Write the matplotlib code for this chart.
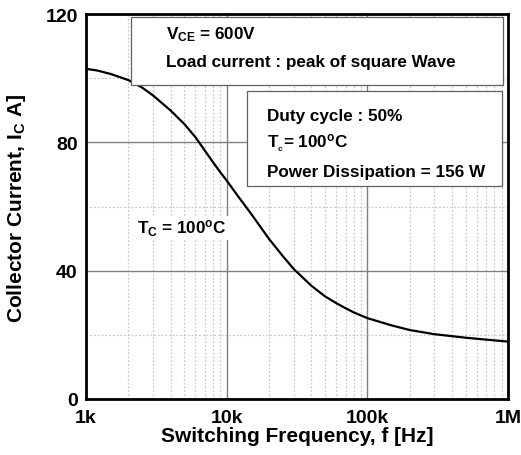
import matplotlib
matplotlib.use("Agg")
import matplotlib.pyplot as plt
import matplotlib.patches as mpatches
from matplotlib.ticker import FixedLocator, NullFormatter, LogLocator

plt.rcParams['font.family'] = ['Liberation Sans', 'DejaVu Sans']
plt.rcParams['font.weight'] = 'bold'
plt.rcParams['mathtext.fontset'] = 'custom'
plt.rcParams['mathtext.rm'] = 'Liberation Sans:bold'
plt.rcParams['mathtext.it'] = 'Liberation Sans:bold'
plt.rcParams['mathtext.bf'] = 'Liberation Sans:bold'

# data
freq_hz = [1000, 1200, 1500, 2000, 2500, 3000, 4000, 5000, 6000, 7000, 8000, 9000,
           10000, 12000, 15000, 20000, 25000, 30000, 40000, 50000, 60000, 70000,
           80000, 100000, 150000, 200000, 300000, 500000, 700000, 1000000]
current_a = [102.9, 102.4, 101.3, 99.4, 97.1, 94.6, 89.9, 85.7, 81.6, 77.4, 73.8, 70.7,
             68.1, 63.3, 57.6, 49.9, 44.6, 40.5, 35.3, 32.0, 29.9, 28.3,
             27.0, 25.2, 22.9, 21.5, 20.2, 19.1, 18.5, 17.9]

x_ticks = [1e3, 1e4, 1e5, 1e6]
x_tick_labels = ['1k', '10k', '100k', '1M']
y_ticks = [0, 40, 80, 120]
y_minor = [20, 60, 100]

W, H = 521, 456
fig = plt.figure(figsize=(W / 100, H / 100), dpi=100)

def fx(px):
    return px / W

def fy(py):
    return 1 - py / H

ax = fig.add_axes([fx(86), fy(400), fx(508) - fx(86), fy(15) - fy(400)])
ax.set_xscale('log')
ax.set_xlim(1e3, 1e6)
ax.set_ylim(0, 120)

ax.plot(freq_hz, current_a, color='black', lw=1.6, zorder=3, solid_joinstyle='round')

ax.xaxis.set_major_locator(FixedLocator(x_ticks))
ax.set_xticklabels(x_tick_labels)
ax.xaxis.set_minor_locator(LogLocator(base=10, subs=range(2, 10)))
ax.xaxis.set_minor_formatter(NullFormatter())
ax.yaxis.set_major_locator(FixedLocator(y_ticks))
ax.yaxis.set_minor_locator(FixedLocator(y_minor))

ax.grid(which='major', color='#808080', lw=1.0, ls='-')
ax.grid(which='minor', color='#c8c8c8', lw=0.9, ls=(0, (1.5, 1.5)))
ax.tick_params(which='both', length=0)
ax.tick_params(axis='x', labelsize=14, pad=7)
ax.tick_params(axis='y', labelsize=14, pad=6)
for lab in ax.get_xticklabels() + ax.get_yticklabels():
    lab.set_fontweight('bold')
for s in ax.spines.values():
    s.set_linewidth(2.0)

fig.text(fx(297), fy(437), 'Switching Frequency, f [Hz]', ha='center', va='center',
         fontsize=15, fontweight='bold')
fig.text(fx(17), fy(208), r'Collector Current, I$_{\mathrm{C}}$ A]', ha='center', va='center',
         rotation=90, fontsize=15, fontweight='bold')

# boxes
box1 = mpatches.Rectangle((fx(131), fy(86)), fx(503) - fx(131), fy(18) - fy(86),
                          transform=fig.transFigure, facecolor='white', edgecolor='#606060', lw=0.9, zorder=5)
box2 = mpatches.Rectangle((fx(247), fy(187)), fx(502) - fx(247), fy(92) - fy(187),
                          transform=fig.transFigure, facecolor='white', edgecolor='#606060', lw=0.9, zorder=5)
fig.patches.extend([box1, box2])

tk = dict(fontsize=12.3, fontweight='bold', ha='left', va='center', zorder=6)
fig.text(fx(166), fy(35), r'V$_{\mathrm{CE}}$ = 600V', **tk)
fig.text(fx(166), fy(62), 'Load current : peak of square Wave', **tk)
fig.text(fx(267), fy(116), 'Duty cycle : 50%', **tk)
fig.text(fx(267), fy(144), r'T$_{_{\mathrm{c}}}$= 100$^{\mathrm{o}}$C', **tk)
fig.text(fx(267), fy(172), 'Power Dissipation = 156 W', **tk)

fig.text(fx(137), fy(229), r'T$_{\mathrm{C}}$ = 100$^{\mathrm{o}}$C', fontsize=12.3, fontweight='bold',
         ha='left', va='center', zorder=6,
         bbox=dict(facecolor='white', edgecolor='none', pad=1.5))

fig.savefig('out.png', dpi=100)
